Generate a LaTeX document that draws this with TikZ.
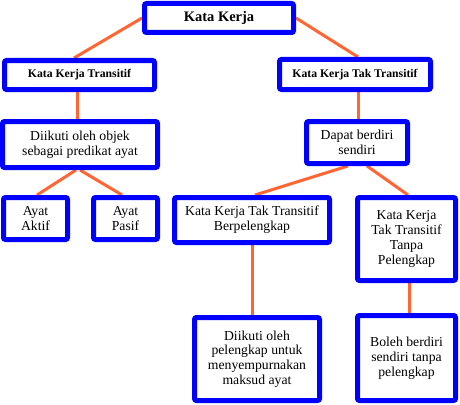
\documentclass[tikz,border=0pt]{standalone}
\usepackage{fontspec}
\setmainfont{Liberation Serif}
\usetikzlibrary{backgrounds}
\definecolor{boxblue}{RGB}{0,0,255}
\definecolor{lineorange}{RGB}{255,102,51}
\begin{document}
\begin{tikzpicture}[x=1pt,y=-1pt,
  box/.style={draw=boxblue, line width=5pt, rounded corners=2pt, fill=white,
    inner sep=0pt, align=center, font=\fontsize{13.7}{14.8}\selectfont},
  headbox/.style={box, font=\bfseries\fontsize{11.7}{13}\selectfont},
  conn/.style={draw=lineorange, line width=3pt}]
\useasboundingbox (0,0) rectangle (460,404);
% top
\node[box, minimum width=149pt, minimum height=29pt,
  font=\bfseries\fontsize{14.5}{16}\selectfont] (k) at (219,18) {Kata Kerja};
\node[headbox, minimum width=150pt, minimum height=29pt] (kt) at (79.5,75) {Kata Kerja Transitif};
\node[headbox, minimum width=151pt, minimum height=30pt] (ktt) at (355,74.5) {Kata Kerja Tak Transitif};
% second level
\node[box, minimum width=155pt, minimum height=46pt] (d1) at (80,144.5) {Diikuti oleh objek\\sebagai predikat ayat};
\node[box, minimum width=101pt, minimum height=42pt] (d2) at (357,142.5) {Dapat berdiri\\sendiri};
% third level
\node[box, minimum width=64pt, minimum height=42pt] (aa) at (35.5,218.5) {Ayat\\Aktif};
\node[box, minimum width=64pt, minimum height=42pt] (ap) at (125.5,218.5) {Ayat\\Pasif};
\node[box, minimum width=155pt, minimum height=45pt] (ber) at (252,220) {Kata Kerja Tak Transitif\\Berpelengkap};
\node[box, minimum width=98pt, minimum height=83pt] (tan) at (406.5,239) {Kata Kerja\\Tak Transitif\\Tanpa\\Pelengkap};
% fourth level
\node[box, minimum width=125pt, minimum height=83pt] (d3) at (257,359) {Diikuti oleh\\pelengkap untuk\\menyempurnakan\\maksud ayat};
\node[box, minimum width=98pt, minimum height=85pt] (bol) at (406.5,358) {Boleh berdiri\\sendiri tanpa\\pelengkap};
\begin{pgfonlayer}{background}
\fill[white] (0,0) rectangle (460,404);
\draw[conn] (k.west) -- ([xshift=-5.5pt]kt.north);
\draw[conn] (k.east) -- ([xshift=3pt]ktt.north);
\draw[conn] ([xshift=-2.5pt]kt.south) -- ([xshift=-2.5pt]kt.south |- d1.north);
\draw[conn] ([xshift=3pt]ktt.south) -- ([xshift=3pt]ktt.south |- d2.north);
\draw[conn] ([xshift=-4pt]d1.south) -- ([xshift=1.5pt]aa.north);
\draw[conn] (d1.south) -- ([xshift=-3.5pt]ap.north);
\draw[conn] ([xshift=-9pt]d2.south) -- ([xshift=3pt]ber.north);
\draw[conn] ([xshift=10pt]d2.south) -- ([xshift=1.5pt]tan.north);
\draw[conn] (ber.south) -- (ber.south |- d3.north);
\draw[conn] ([xshift=2.5pt]tan.south) -- ([xshift=2.5pt]tan.south |- bol.north);
\end{pgfonlayer}
\end{tikzpicture}
\end{document}
